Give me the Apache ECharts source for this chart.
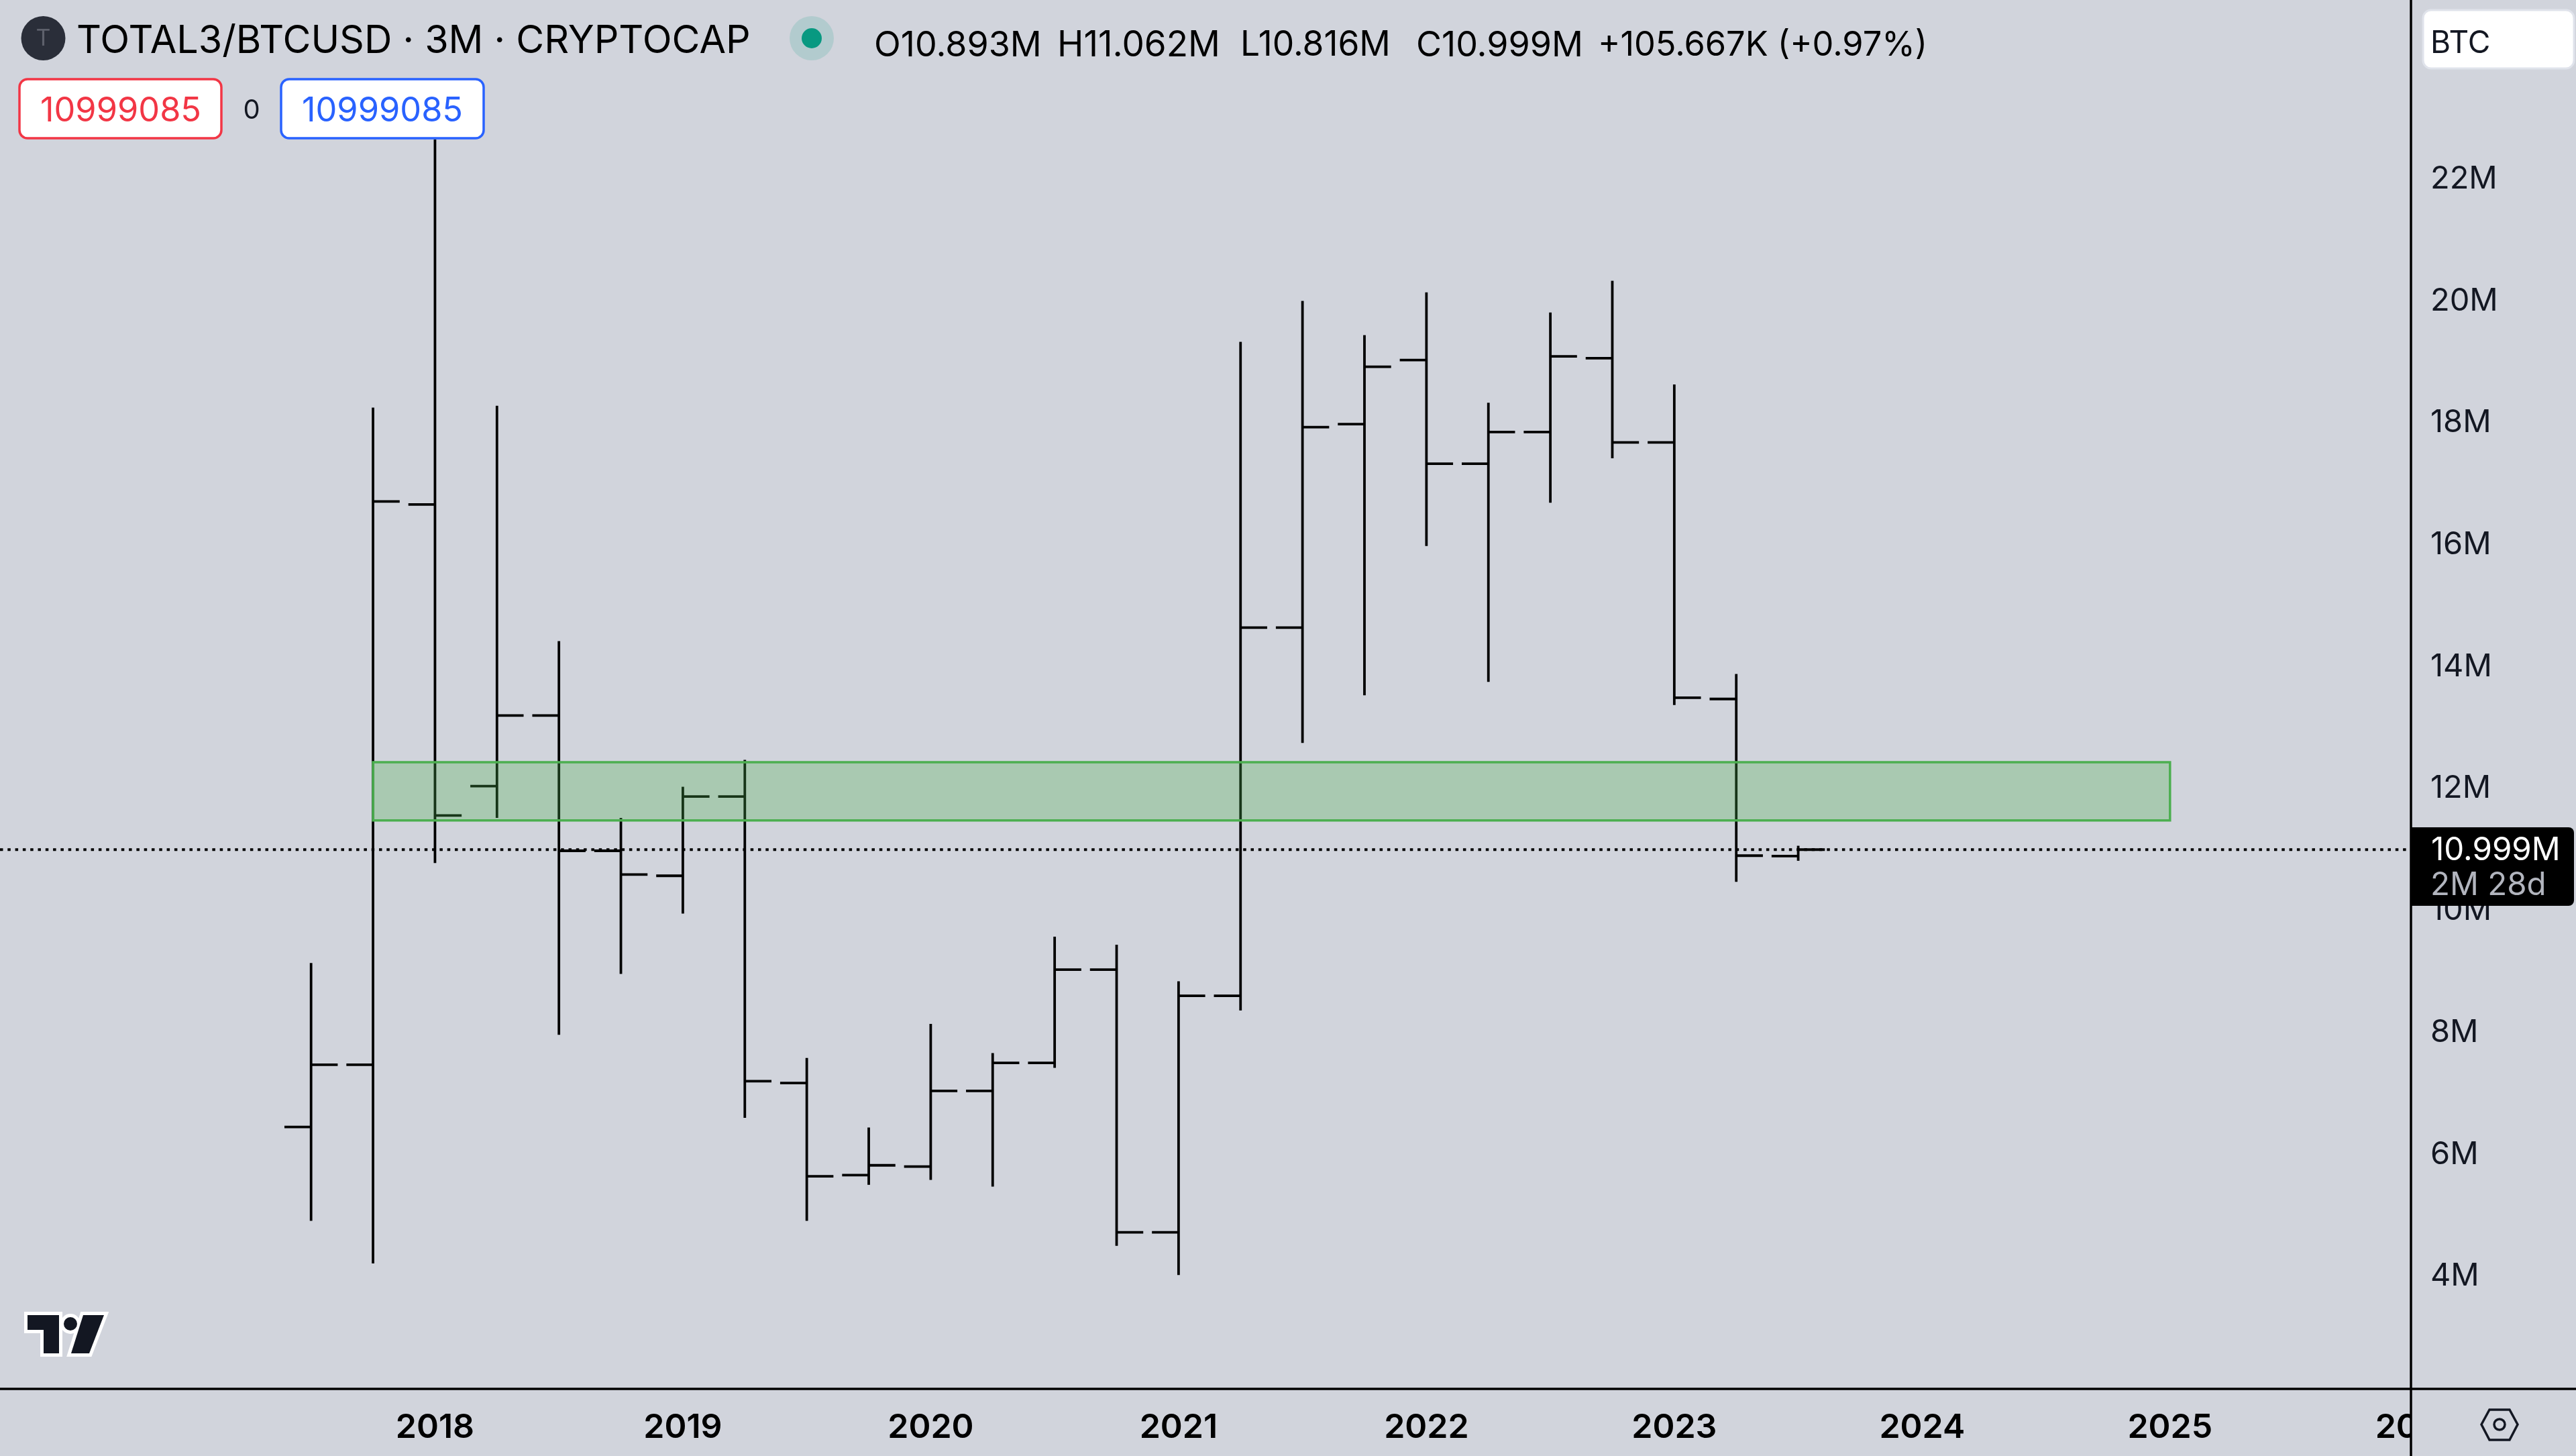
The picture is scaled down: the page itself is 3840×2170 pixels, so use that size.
<!DOCTYPE html>
<html>
<head>
<meta charset="utf-8">
<title>TOTAL3/BTCUSD</title>
<style>
    html, body { margin: 0; padding: 0; background: #D1D4DC; }
    #chart { width: 3840px; height: 2170px; }
</style>
<script src="https://cdn.jsdelivr.net/npm/echarts@6/dist/echarts.min.js"></script>
</head>
<body>
<div id="chart"></div>
<script>
// 季度K线的位置（按年份小数），2017Q3 到 2023Q3
const barDates = [2017.5, 2017.75, 2018, 2018.25, 2018.5, 2018.75, 2019, 2019.25, 2019.5, 2019.75,
    2020, 2020.25, 2020.5, 2020.75, 2021, 2021.25, 2021.5, 2021.75, 2022, 2022.25,
    2022.5, 2022.75, 2023, 2023.25, 2023.5];
// 以下单位都是 M
const opens = [6.45, 7.47, 16.66, 12.04, 13.2, 10.98, 10.57, 11.87, 7.17, 5.66,
    5.8, 7.04, 7.5, 9.03, 4.72, 8.6, 14.64, 17.98, 19.03, 17.33,
    17.85, 19.06, 17.68, 13.47, 10.893];
const highs = [9.14, 18.25, 22.65, 18.28, 14.42, 11.52, 12.03, 12.47, 7.58, 6.44,
    8.14, 7.66, 9.57, 9.44, 8.84, 19.33, 20.0, 19.44, 20.14, 18.33,
    19.81, 20.33, 18.63, 13.88, 11.062];
const lows = [4.91, 4.21, 10.78, 11.52, 7.96, 8.96, 9.95, 6.6, 4.91, 5.5,
    5.58, 5.47, 7.42, 4.5, 4.02, 8.36, 12.75, 13.53, 15.98, 13.75,
    16.69, 17.42, 13.37, 10.47, 10.816];
const closes = [7.47, 16.71, 11.56, 13.2, 10.98, 10.59, 11.87, 7.2, 5.64, 5.82,
    7.04, 7.5, 9.03, 4.72, 8.6, 14.64, 17.93, 18.92, 17.33, 17.85,
    19.09, 17.68, 13.49, 10.9, 10.999];
const yearTicks = [2018, 2019, 2020, 2021, 2022, 2023, 2024, 2025, 2026];
const priceTicks = [4, 6, 8, 10, 12, 14, 16, 18, 20, 22];
// 绿色矩形：[起, 止, 下沿, 上沿]
const zone = [2017.75, 2025, 11.478, 12.433];
const lastClose = 10.999;

const FONT = 'Inter, "Noto Sans", sans-serif';
const BG = '#D1D4DC';
const INK = '#131722';
const PANE_RIGHT = 3594;
const AXIS_Y = 2070;

// x、y 轴的可视范围，对应整个画布
const xMin = 2016.245;
const xMax = 2026.638;
const xEdge = 2025.972;
const yMin = 2.152;
const yMax = 24.937;

// 美国线：竖线 + 左开盘 + 右收盘
function renderBar(params, api) {
    let x = api.value(0);
    let openP = api.coord([x, api.value(1)]);
    let highP = api.coord([x, api.value(2)]);
    let lowP = api.coord([x, api.value(3)]);
    let closeP = api.coord([x, api.value(4)]);
    let tick = api.size([0.25, 0])[0] * 0.43;
    let style = { stroke: '#000', lineWidth: 3.8, fill: null };
    return {
        type: 'group',
        children: [
            { type: 'line', shape: { x1: highP[0], y1: highP[1], x2: lowP[0], y2: lowP[1] }, style },
            { type: 'line', shape: { x1: openP[0] - tick, y1: openP[1], x2: openP[0], y2: openP[1] }, style },
            { type: 'line', shape: { x1: closeP[0], y1: closeP[1], x2: closeP[0] + tick, y2: closeP[1] }, style }
        ]
    };
}

function renderZone(params, api) {
    let a = api.coord([api.value(0), api.value(3)]);
    let b = api.coord([api.value(1), api.value(2)]);
    return {
        type: 'rect',
        shape: { x: a[0], y: a[1], width: b[0] - a[0], height: b[1] - a[1] },
        style: { fill: 'rgba(76,175,80,0.3)', stroke: '#4CAF50', lineWidth: 3.5 }
    };
}

function label(text, x, y, size, color, weight, align) {
    return {
        type: 'text',
        z: 110,
        style: {
            text, x, y,
            fill: color,
            font: (weight || 400) + ' ' + size + 'px ' + FONT,
            align: align || 'left',
            verticalAlign: 'middle'
        }
    };
}

function box(x, y, width, height, fill, stroke, lineWidth, r) {
    return {
        type: 'rect',
        z: 105,
        shape: { x, y, width, height, r: r === undefined ? 12 : r },
        style: { fill, stroke: stroke || null, lineWidth: lineWidth || 0 }
    };
}

let headerItems = [
    // 标题行
    { type: 'circle', z: 105, shape: { cx: 64.5, cy: 57, r: 33 }, style: { fill: '#2A2E39' } },
    label('T', 64.5, 58, 34, '#5D606B', 400, 'center'),
    label('TOTAL3/BTCUSD · 3M · CRYPTOCAP', 114, 62, 57.4, '#000'),
    { type: 'circle', z: 105, shape: { cx: 1210, cy: 57, r: 33 }, style: { fill: 'rgba(8,153,129,0.15)' } },
    { type: 'circle', z: 106, shape: { cx: 1210, cy: 57, r: 15 }, style: { fill: '#089981' } },
    // OHLC
    label('O10.893M', 1303, 68, 52, '#000'),
    label('H11.062M', 1576, 68, 53, '#000'),
    label('L10.816M', 1849, 68, 51.5, '#000'),
    label('C10.999M', 2111, 68, 52, '#000'),
    label('+105.667K (+0.97%)', 2382, 68, 50.5, '#000'),
    // 买卖价框
    box(29, 118, 301, 88, '#fff', '#F23645', 3.5),
    label('10999085', 180, 166, 50.5, '#F23645', 400, 'center'),
    label('0', 375, 165, 40, INK, 400, 'center'),
    box(419, 118, 302, 88, '#fff', '#2962FF', 3.5),
    label('10999085', 570, 166, 50.5, '#2962FF', 400, 'center')
];

let frameItems = [
    // 盖住时间轴在价格栏里的部分
    box(PANE_RIGHT, AXIS_Y, 246, 100, BG, null, 0, 0),
    { type: 'line', z: 106, shape: { x1: 0, y1: AXIS_Y, x2: 3840, y2: AXIS_Y }, style: { stroke: '#000', lineWidth: 3.5 } },
    { type: 'line', z: 106, shape: { x1: PANE_RIGHT, y1: 0, x2: PANE_RIGHT, y2: 2170 }, style: { stroke: '#000', lineWidth: 3.5 } },
    // BTC 按钮
    box(3612, 15, 225, 87, '#fff', '#E0E3EB', 3),
    label('BTC', 3623, 65, 46, INK),
    // 当前价标签
    { type: 'rect', z: 105, shape: { x: PANE_RIGHT, y: 1233, width: 243, height: 117, r: [0, 8, 8, 0] }, style: { fill: '#000' } },
    label('10.999M', 3624, 1268, 47.5, '#fff'),
    label('2M 28d', 3623, 1320, 47.5, '#B2B5BE'),
    // 设置图标
    {
        type: 'polygon', z: 106,
        shape: { points: [[3699, 2123], [3711, 2101], [3741, 2101], [3753, 2123], [3741, 2146], [3711, 2146]] },
        style: { fill: null, stroke: INK, lineWidth: 3.5 }
    },
    { type: 'circle', z: 106, shape: { cx: 3726, cy: 2123, r: 8 }, style: { fill: null, stroke: INK, lineWidth: 3.5 } }
];

// TradingView 角标
const logoT = [[41, 1960], [88, 1960], [88, 2017], [65, 2017], [65, 1982], [41, 1982]];
const logoSlash = [[124, 1960], [155, 1960], [133, 2017], [106, 2017]];
let logoItems = [];
[[logoT, '#fff', 10, 105], [logoSlash, '#fff', 10, 105], [logoT, INK, 0, 106], [logoSlash, INK, 0, 106]].forEach(function ([points, color, lw, z]) {
    logoItems.push({ type: 'polygon', z, shape: { points }, style: { fill: color, stroke: lw ? color : null, lineWidth: lw } });
});
logoItems.push({ type: 'circle', z: 105, shape: { cx: 105, cy: 1973, r: 15 }, style: { fill: '#fff' } });
logoItems.push({ type: 'circle', z: 106, shape: { cx: 105, cy: 1973, r: 10 }, style: { fill: INK } });

let chart = echarts.init(document.getElementById('chart'));

let option = {
    backgroundColor: BG,
    animation: false,
    grid: { left: 0, right: 0, top: 0, height: AXIS_Y },
    xAxis: {
        type: 'value',
        min: xMin,
        max: xMax,
        splitLine: { show: false },
        axisLine: { show: false },
        axisTick: { show: false },
        axisLabel: {
            customValues: yearTicks,
            formatter: (v) => String(v),
            margin: 33,
            fontFamily: FONT,
            fontSize: 50,
            fontWeight: 600,
            color: '#000'
        }
    },
    yAxis: {
        type: 'value',
        position: 'right',
        offset: PANE_RIGHT - 3840,
        min: yMin,
        max: yMax,
        splitLine: { show: false },
        axisLine: { show: false },
        axisTick: { show: false },
        axisLabel: {
            customValues: priceTicks,
            formatter: (v) => v + 'M',
            margin: 29,
            padding: [10, 0, 0, 0],
            fontFamily: FONT,
            fontSize: 47,
            color: INK
        }
    },
    series: [
        {
            type: 'custom',
            name: 'OHLC',
            z: 3,
            clip: false,
            renderItem: renderBar,
            encode: { x: 0, y: [1, 2, 3, 4] },
            data: barDates.map((d, i) => [d, opens[i], highs[i], lows[i], closes[i]])
        },
        {
            type: 'line',
            name: 'last',
            z: 4,
            symbol: 'none',
            silent: true,
            lineStyle: { color: '#000', width: 4, type: [4.5, 6.8] },
            data: [[xMin, lastClose], [xEdge, lastClose]]
        },
        {
            type: 'custom',
            name: 'zone',
            z: 5,
            renderItem: renderZone,
            encode: { x: [0, 1], y: [2, 3] },
            data: [zone]
        }
    ],
    graphic: { elements: headerItems.concat(frameItems, logoItems) }
};

chart.setOption(option);
</script>
</body>
</html>
